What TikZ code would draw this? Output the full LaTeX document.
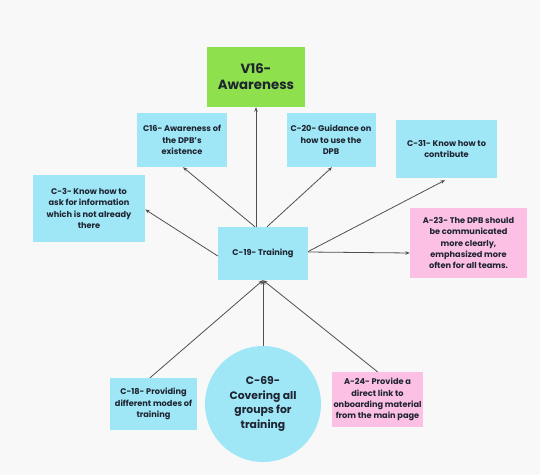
\documentclass[tikz,border=0pt]{standalone}
\usepackage{fontspec}
\setmainfont{Poppins}
\usetikzlibrary{arrows.meta,shapes.geometric}
\definecolor{bgc}{HTML}{F8F8F8}
\definecolor{cyanbox}{HTML}{9FE7F7}
\definecolor{pinkbox}{HTML}{FBC0E3}
\definecolor{greenbox}{HTML}{8EE04C}
\definecolor{inkc}{HTML}{1E2430}
\definecolor{linec}{HTML}{505050}
\tikzset{
  card/.style={rectangle, fill=cyanbox, align=center, inner sep=1pt,
    text=inkc, font=\fontsize{8.2}{11.3}\selectfont\bfseries},
  pinkcard/.style={card, fill=pinkbox},
  greencard/.style={card, fill=greenbox, font=\fontsize{13.3}{16}\selectfont\bfseries},
  bigcircle/.style={circle, fill=cyanbox, align=center, inner sep=0pt,
    text=inkc, minimum size=116pt, font=\fontsize{10.8}{14.5}\selectfont\bfseries},
  arr/.style={draw=linec, line width=0.8pt, -{Stealth[length=4.5pt,width=3.5pt]}}
}
\begin{document}
\begin{tikzpicture}[x=1pt,y=1pt]
  % canvas
  \fill[bgc] (0,0) rectangle (540,475);
  \useasboundingbox (0,0) rectangle (540,475);

  % top: value node
  \node[greencard, minimum width=98pt, minimum height=60pt] (v16) at (256,398) {V16-\\Awareness};

  % upper ring of cards
  \node[card, minimum width=90pt, minimum height=54pt] (c16) at (182,335) {C16- Awareness of\\the DPB's\\existence};
  \node[card, minimum width=89pt, minimum height=54pt] (c20) at (331,335) {C-20- Guidance on\\how to use the\\DPB};
  \node[card, minimum width=101pt, minimum height=58pt] (c31) at (446.5,326) {C-31- Know how to\\contribute};
  \node[card, minimum width=112pt, minimum height=67pt] (c3) at (89,266.5) {C-3- Know how to\\ask for information\\which is not already\\there};
  \node[pinkcard, minimum width=117pt, minimum height=70pt] (a23) at (468.5,232) {A-23- The DPB should\\be communicated\\more clearly,\\emphasized more\\often for all teams.};

  % centre
  \node[card, minimum width=90pt, minimum height=53pt] (c19) at (263,221.5) {C-19- Training};

  % lower row
  \node[card, minimum width=87pt, minimum height=52pt] (c18) at (153.5,71) {C-18- Providing\\different modes of\\training};
  \node[bigcircle] (c69) at (263,71) {C-69-\\Covering all\\groups for\\training};
  \node[pinkcard, minimum width=91pt, minimum height=55pt] (a24) at (377.5,75.5) {A-24- Provide a\\direct link to\\onboarding material\\from the main page};

  % outgoing links from the centre
  \draw[arr] (c19.north -| v16.south) -- (v16.south);
  \draw[arr] ([xshift=-8pt]c19.north) -- ([xshift=1pt]c16.south);
  \draw[arr] ([xshift=4pt]c19.north) -- ([xshift=1pt]c20.south);
  \draw[arr] ([yshift=2pt]c19.east) -- ([xshift=-1.5pt,yshift=-2pt]c31.south);
  \draw[arr] ([yshift=-2.5pt]c19.west) -- ([yshift=-1pt]c3.east);
  \draw[arr] ([yshift=1.5pt]c19.east) -- ([yshift=-10pt]a23.west);

  % incoming links from the lower row
  \draw[arr] ([xshift=-3.5pt]c18.north) -- (c19.south);
  \draw[arr] (c69.north) -- (c19.south);
  \draw[arr] (a24.north) -- (c19.south);
\end{tikzpicture}
\end{document}
